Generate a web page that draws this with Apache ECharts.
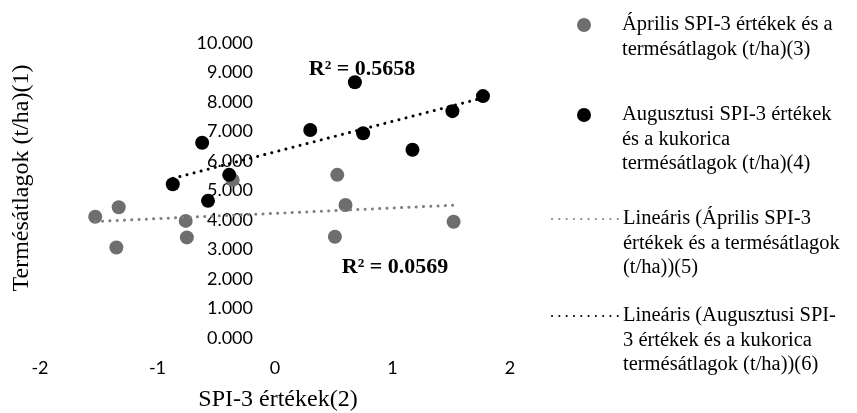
<!DOCTYPE html>
<html>
<head>
<meta charset="utf-8">
<script src="https://cdn.jsdelivr.net/npm/echarts@6/dist/echarts.min.js"></script>
<style>
html, body { margin: 0; padding: 0; background: #fff; }
#chart_spi { width: 857px; height: 413px; }
</style>
</head>
<body>
<div id="chart_spi"></div>
<script>
// SPI-3 values (x) and yield averages t/ha (y)
var aprX = [-1.53, -1.33, -1.35, -0.76, -0.75, -0.36, 0.53, 0.60, 0.51, 1.52];
var aprY = [4.11, 4.43, 3.07, 3.97, 3.41, 5.36, 5.53, 4.51, 3.43, 3.94];
var augX = [-0.87, -0.57, -0.39, -0.62, 0.68, 0.30, 0.75, 1.17, 1.51, 1.77];
var augY = [5.21, 4.65, 5.53, 6.62, 8.67, 7.05, 6.94, 6.38, 7.69, 8.20];

// trendline end points
var aprTrendX = [-1.53, 1.52];
var aprTrendY = [3.95, 4.50];
var augTrendX = [-0.87, 1.77];
var augTrendY = [5.41, 8.14];

var r2Labels = ['R² = 0.5658', 'R² = 0.0569'];

var seriesNames = [
    'Április SPI-3 értékek és a termésátlagok (t/ha)(3)',
    'Augusztusi SPI-3 értékek és a kukorica termésátlagok (t/ha)(4)',
    'Lineáris (Április SPI-3 értékek és a termésátlagok (t/ha))(5)',
    'Lineáris (Augusztusi SPI-3 értékek és a kukorica termésátlagok (t/ha))(6)'
];
var legendLines = [
    ['Április SPI-3 értékek és a', 'termésátlagok (t/ha)(3)'],
    ['Augusztusi SPI-3 értékek', 'és a kukorica', 'termésátlagok (t/ha)(4)'],
    ['Lineáris (Április SPI-3', 'értékek és a termésátlagok', '(t/ha))(5)'],
    ['Lineáris (Augusztusi SPI-', '3 értékek és a kukorica', 'termésátlagok (t/ha))(6)']
];

var xTitle = 'SPI-3 értékek(2)';
var yTitle = 'Termésátlagok (t/ha)(1)';

function pairs(xs, ys) {
    var out = [];
    for (var i = 0; i < xs.length; i++) out.push([xs[i], ys[i]]);
    return out;
}

var serif = "'Liberation Serif', 'Times New Roman', serif";
var LH = 24.5;
var iconY = [25, 115, 219, 316];
var legendLeft = [577, 577, 551, 551];

// one legend per entry so the icon lines up with the first text line
var legends = [];
for (var k = 0; k < 4; k++) {
    var lines = legendLines[k];
    var pad = lines.length - 1;   // empty lines on top keep the icon on line 1
    var total = (lines.length + pad) * LH;
    legends.push({
        data: [seriesNames[k]],
        left: legendLeft[k],
        top: iconY[k] - total / 2,
        padding: 0,
        itemWidth: 66,
        itemHeight: 14,
        selectedMode: false,
        // hide the little circle ECharts puts in the middle of line icons
        itemStyle: k > 1 ? { opacity: 0 } : {},
        formatter: (function (ls, p) {
            return function () {
                var s = '';
                for (var j = 0; j < p; j++) s += '\n';
                return s + ls.join('\n');
            };
        })(lines, pad),
        textStyle: {
            fontFamily: serif,
            fontSize: 20.5,
            lineHeight: LH,
            color: '#000'
        }
    });
}

var dotted = [0.1, 7.2];

var option = {
    animation: false,
    grid: {
        left: 40,
        width: 470,
        top: 43,
        height: 295,
        outerBoundsMode: 'none'
    },
    legend: legends,
    xAxis: {
        type: 'value',
        min: -2,
        max: 2,
        interval: 1,
        axisLine: { show: false },
        axisTick: { show: false },
        splitLine: { show: false },
        axisLabel: {
            margin: 21,
            fontFamily: 'Lato',
            fontSize: 18,
            color: '#000'
        }
    },
    yAxis: {
        type: 'value',
        min: 0,
        max: 10,
        interval: 1,
        offset: -235,   // axis sits at x = 0
        axisLine: { show: false, onZero: false },
        axisTick: { show: false },
        splitLine: { show: false },
        axisLabel: {
            margin: 22,
            fontFamily: 'Lato',
            fontSize: 18,
            color: '#000',
            formatter: function (v) { return v.toFixed(3); }
        }
    },
    graphic: [
        {
            type: 'text', x: 22, y: 178, rotation: Math.PI / 2,
            style: { text: yTitle, font: '24px ' + serif, fill: '#000', align: 'center', verticalAlign: 'middle' }
        },
        {
            type: 'text', x: 278, y: 400,
            style: { text: xTitle, font: '24px ' + serif, fill: '#000', align: 'center', verticalAlign: 'middle' }
        },
        {
            type: 'text', x: 362, y: 69, z: 10,
            style: { text: r2Labels[0], font: 'bold 22px ' + serif, fill: '#000', align: 'center', verticalAlign: 'middle' }
        },
        {
            type: 'text', x: 395, y: 267, z: 10,
            style: { text: r2Labels[1], font: 'bold 22px ' + serif, fill: '#000', align: 'center', verticalAlign: 'middle' }
        }
    ],
    series: [
        {
            name: seriesNames[0],
            type: 'scatter',
            symbolSize: 14,
            itemStyle: { color: '#6e6e6e', opacity: 1 },
            data: pairs(aprX, aprY)
        },
        {
            name: seriesNames[1],
            type: 'scatter',
            symbolSize: 14,
            itemStyle: { color: '#000', opacity: 1 },
            data: pairs(augX, augY)
        },
        {
            name: seriesNames[2],
            type: 'line',
            symbol: 'none',
            lineStyle: { color: '#7f7f7f', width: 3, type: dotted, cap: 'round' },
            itemStyle: { color: '#7f7f7f' },
            data: pairs(aprTrendX, aprTrendY)
        },
        {
            name: seriesNames[3],
            type: 'line',
            symbol: 'none',
            lineStyle: { color: '#000', width: 3, type: dotted, cap: 'round' },
            itemStyle: { color: '#000' },
            data: pairs(augTrendX, augTrendY)
        }
    ]
};

var myChart = echarts.init(document.getElementById('chart_spi'));
myChart.setOption(option);
</script>
</body>
</html>
